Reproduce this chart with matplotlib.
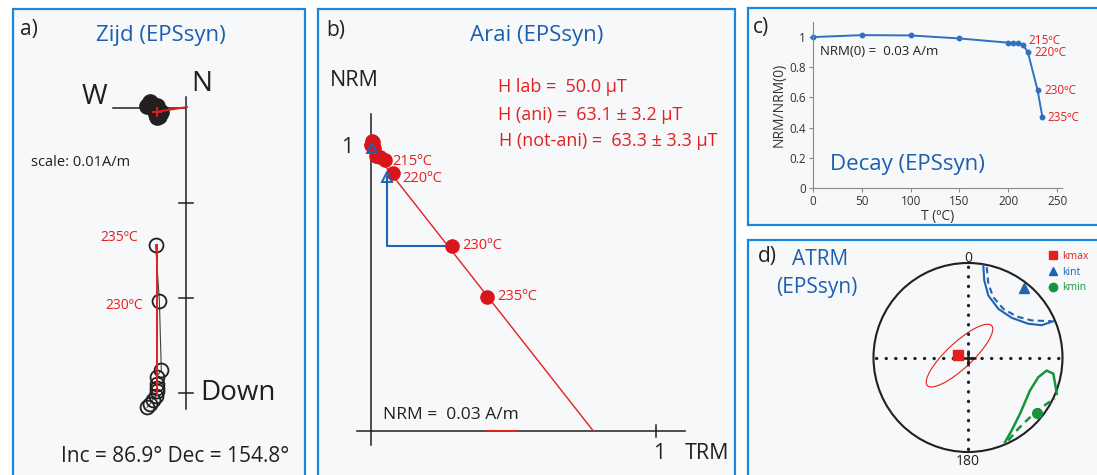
import numpy as np
import matplotlib
matplotlib.use('Agg')
import matplotlib.pyplot as plt
from matplotlib.patches import Rectangle, Ellipse, Circle
from matplotlib.lines import Line2D

plt.rcParams['font.family'] = ['Open Sans', 'DejaVu Sans']

W, H = 1097, 475

# ---------------------------------------------------------------- data
steps = [0, 50, 100, 150, 200, 205, 210, 215, 220, 230, 235]            # degC
labelled = [215, 220, 230, 235]

# c) thermal decay, NRM/NRM(0)
nrm_frac = [1.0, 1.013, 1.011, 0.991, 0.963, 0.960, 0.958, 0.949, 0.901, 0.648, 0.468]

# b) Arai: pTRM gained (fraction of full TRM)
trm_frac = [0.0, 0.004, 0.006, 0.010, 0.017, 0.022, 0.030, 0.049, 0.077, 0.284, 0.407]
check_trm = [0.004, 0.055]          # pTRM checks
check_nrm = [0.990, 0.888]
check_ref = [205, 230]              # step the check line starts from
fit_trm = [0.05, 0.78]
fit_nrm = [0.926, 0.0]
tail_trm = [0.407, 0.509]

# a) Zijderveld components (A/m)
zij_east = [-0.0041, -0.0038, -0.0035, -0.0032, -0.0031, -0.0031, -0.0030, -0.0031, -0.0026, -0.0028, -0.0032]
zij_north = [0.0002, 0.0006, 0.0003, -0.0004, -0.0009, -0.0007, -0.0002, 0.0002, -0.0004, -0.0008, -0.0006]
zij_down = [0.0315, 0.0312, 0.0307, 0.0303, 0.0298, 0.0295, 0.0291, 0.0283, 0.0276, 0.0203, 0.0144]
pca_h_east = [-0.0031, 0.0001]
pca_h_north = [-0.0004, 0.0001]
pca_v_east = [-0.0031, -0.0031]
pca_v_down = [0.0144, 0.0302]

# d) ATRM eigenvectors
k_names = ['kmax', 'kint', 'kmin']
k_dec = [281, 39, 129]
k_inc = [81, 6, 7]
kmax_ell_xy = (-0.09, 0.02)
kmax_ell_wh = (0.93, 0.27)
kmax_ell_ang = 43
kint_solid_x = [0.162, 0.172, 0.215, 0.321, 0.462, 0.638, 0.780, 0.903]
kint_solid_y = [0.974, 0.815, 0.656, 0.515, 0.420, 0.357, 0.342, 0.384]
kint_dash_x = [0.198, 0.215, 0.268, 0.374, 0.515, 0.674, 0.886]
kint_dash_y = [0.956, 0.780, 0.638, 0.515, 0.434, 0.392, 0.384]
kmin_solid_x = [0.392, 0.462, 0.550, 0.656, 0.744, 0.833, 0.903, 0.928, 0.939]
kmin_solid_y = [-0.896, -0.772, -0.596, -0.349, -0.208, -0.138, -0.172, -0.314, -0.384]
kmin_dash_x = [0.426, 0.532, 0.638, 0.744, 0.833, 0.921]
kmin_dash_y = [-0.878, -0.754, -0.649, -0.561, -0.490, -0.437]

# ---------------------------------------------------------------- style
FRAME = '#1a86dc'
PANEL = '#f6f8fa'
TITLE = '#1d5fae'
RED = '#e3201f'
DOT_RED = '#d9141b'
LINE_BLUE = '#3170c0'
ARC_BLUE = '#1f63b5'
GREEN = '#17943b'
INK = '#231f20'

fig = plt.figure(figsize=(W / 100, H / 100), dpi=100)
fig.patch.set_facecolor('white')


def box(x0, y0, x1, y1):
    return [x0 / W, 1 - y1 / H, (x1 - x0) / W, (y1 - y0) / H]


def ftext(x, y, s, **kw):
    kw.setdefault('va', 'baseline')
    kw.setdefault('color', INK)
    fig.text(x / W, 1 - y / H, s, **kw)


# panel frames
for x0, y0, x1, y1 in [(12.5, 8.5, 305, 490), (318, 8.5, 735, 490),
                       (748, 8.5, 1110, 225), (748, 240, 1110, 490)]:
    fig.add_artist(Rectangle((x0 / W, 1 - y1 / H), (x1 - x0) / W, (y1 - y0) / H,
                             transform=fig.transFigure, fc=PANEL, ec=FRAME,
                             lw=1.6, zorder=-5))

# ================================================================ a) Zijderveld
axz = fig.add_axes(box(13, 9, 305, 475))
zs = 9500.0                      # px per A/m
axz.set_xlim((13 - 186) / zs, (305 - 186) / zs)
axz.set_ylim((108 - 475) / zs, (108 - 9) / zs)
axz.set_axis_off()

axz.plot([-0.0077, 0], [0, 0], color=INK, lw=1.1)
axz.plot([0, 0], [0.0012, -0.0317], color=INK, lw=1.1)
for t in [0.01, 0.02, 0.03]:
    axz.plot([-0.0007, 0.0007], [-t, -t], color=INK, lw=1.1)

down_neg = [-d for d in zij_down]
axz.plot(zij_east, zij_north, 'o', color=INK, ms=11, zorder=3)
axz.plot(zij_east, down_neg, '-', color='#444444', lw=0.8, zorder=2)
axz.plot(zij_east, down_neg, 'o', mfc='none', mec=INK, mew=1.3, ms=10, zorder=3)
axz.plot(pca_h_east, pca_h_north, color=RED, lw=1.4, zorder=4)
axz.plot(pca_h_east[:1], pca_h_north[:1], '+', color=RED, ms=7, mew=1.3, zorder=4)
axz.plot(pca_v_east, [-d for d in pca_v_down], color=RED, lw=1.4, zorder=4)

zlab_off = {235: (-18, 4), 230: (-16, -8)}
for T, (dx, dy) in zlab_off.items():
    i = steps.index(T)
    axz.annotate(f'{T}ºC', (zij_east[i], -zij_down[i]), xytext=(dx, dy),
                 textcoords='offset pixels', ha='right', va='baseline',
                 color=RED, fontsize=10)

ftext(20, 35, 'a)', fontsize=15)
ftext(161, 41.5, 'Zijd (EPSsyn)', fontsize=16, color=TITLE, ha='center')
ftext(94.5, 104, 'W', fontsize=20, ha='center')
ftext(202, 91, 'N', fontsize=20, ha='center')
ftext(200, 400, 'Down', fontsize=20)
ftext(31, 165.5, 'scale: 0.01A/m', fontsize=10.5)
ftext(175, 462.5, 'Inc = 86.9° Dec = 154.8°', fontsize=15, ha='center')

# ================================================================ b) Arai
axa = fig.add_axes(box(319, 9, 735, 475))
axa.set_xlim((319 - 371) / 285, (735 - 371) / 285)
axa.set_ylim((431 - 475) / 286, (431 - 9) / 286)
axa.set_axis_off()

axa.plot([-0.05, 1.10], [0, 0], color=INK, lw=1.1)
axa.plot([0, 0], [-0.05, 1.107], color=INK, lw=1.1)
axa.plot([-0.022, 0], [1, 1], color=INK, lw=1.1)
axa.plot([1, 1], [-0.021, 0.021], color=INK, lw=1.1)
axa.plot(tail_trm, [0, 0], color=RED, lw=1.4, zorder=3)

axa.plot(fit_trm, fit_nrm, color=RED, lw=1.0, zorder=3)
for cx, cy, ref in zip(check_trm, check_nrm, check_ref):
    j = steps.index(ref)
    axa.plot([trm_frac[j], cx, cx], [nrm_frac[j], nrm_frac[j], cy],
             color=ARC_BLUE, lw=1.5, zorder=2)
axa.plot(check_trm, check_nrm, '^', mfc='none', mec=ARC_BLUE, mew=1.4, ms=7, zorder=5)
axa.plot(trm_frac, nrm_frac, 'o', color=DOT_RED, ms=9.5, zorder=4)

alab_off = {215: (7, -5), 220: (9, -9), 230: (10, -3), 235: (10, -3)}
for T, (dx, dy) in alab_off.items():
    i = steps.index(T)
    axa.annotate(f'{T}ºC', (trm_frac[i], nrm_frac[i]), xytext=(dx, dy),
                 textcoords='offset pixels', ha='left', va='baseline',
                 color=RED, fontsize=10.5)

ftext(326.5, 36, 'b)', fontsize=15)
ftext(537, 41.5, 'Arai (EPSsyn)', fontsize=16, color=TITLE, ha='center')
ftext(330, 86.5, 'NRM', fontsize=15.5)
ftext(353, 153, '1', fontsize=15.5, ha='right')
ftext(659, 459, '1', fontsize=15.5, ha='center')
ftext(685, 459, 'TRM', fontsize=15.5)
ftext(498, 91.5, 'H lab =  50.0 μT', fontsize=13, color=RED)
ftext(498, 120, 'H (ani) =  63.1 ± 3.2 μT', fontsize=13, color=RED)
ftext(499, 146.5, 'H (not-ani) =  63.3 ± 3.3 μT', fontsize=13, color=RED)
ftext(383, 419, 'NRM =  0.03 A/m', fontsize=12.5)

# ================================================================ c) Decay
axc = fig.add_axes(box(813, 22, 1062, 188))
axc.patch.set_visible(False)
axc.plot(steps, nrm_frac, '-o', color=LINE_BLUE, lw=1.4, ms=3.2, clip_on=False)
axc.set_xlim(0, 255)
axc.set_ylim(0, 1.1)
axc.set_xticks([0, 50, 100, 150, 200, 250])
axc.set_yticks([0, 0.2, 0.4, 0.6, 0.8, 1.0])
axc.set_yticklabels(['0', '0.2', '0.4', '0.6', '0.8', '1'])
for s in ['top', 'right']:
    axc.spines[s].set_visible(False)
for s in ['left', 'bottom']:
    axc.spines[s].set_color('#8a8a8a')
    axc.spines[s].set_linewidth(0.8)
axc.tick_params(length=3, width=0.8, color='#8a8a8a', labelsize=8.5, pad=2,
                labelcolor='#333333')
axc.set_xlabel('T (ºC)', fontsize=10, labelpad=1, color='#333333')
axc.set_ylabel('NRM/NRM(0)', fontsize=10, labelpad=2, color='#333333')

clab_off = {215: (5, 1), 220: (7, -4), 230: (7, -4), 235: (5, -4)}
for T, (dx, dy) in clab_off.items():
    i = steps.index(T)
    axc.annotate(f'{T}ºC', (T, nrm_frac[i]), xytext=(dx, dy),
                 textcoords='offset pixels', ha='left', va='baseline',
                 color=RED, fontsize=8.5)

ftext(753, 33, 'c)', fontsize=15)
ftext(820, 55, 'NRM(0) =  0.03 A/m', fontsize=9.5)
ftext(830, 170, 'Decay (EPSsyn)', fontsize=16, color=TITLE)

# ================================================================ d) ATRM stereonet
axd = fig.add_axes(box(749, 241, 1097, 475))
R = 94.5
axd.set_xlim((749 - 968) / R, (1097 - 968) / R)
axd.set_ylim((357.5 - 475) / R, (357.5 - 241) / R)
axd.set_axis_off()

axd.add_patch(Circle((0, 0), 1, fill=False, ec=INK, lw=1.5))
dots = dict(color=INK, lw=2.3, ls=(0, (0.1, 2.9)), dash_capstyle='round')
axd.plot([-0.97, 0.97], [0, 0], **dots)
axd.plot([0, 0], [-0.97, 0.97], **dots)
axd.plot([0], [0], '+', color=INK, ms=11, mew=1.8)

axd.add_patch(Ellipse(kmax_ell_xy, kmax_ell_wh[0], kmax_ell_wh[1], angle=kmax_ell_ang,
                      fill=False, ec=RED, lw=0.8))
axd.plot(kint_solid_x, kint_solid_y, color=ARC_BLUE, lw=1.5)
axd.plot(kint_dash_x, kint_dash_y, color=ARC_BLUE, lw=1.5, ls=(0, (3, 2)))
axd.plot(kmin_solid_x, kmin_solid_y, color=GREEN, lw=1.8)
axd.plot(kmin_dash_x, kmin_dash_y, color=GREEN, lw=1.8, ls=(0, (3, 2)))

rr = np.sqrt(2) * np.sin(np.radians(90 - np.array(k_inc)) / 2)
kx = rr * np.sin(np.radians(k_dec))
ky = rr * np.cos(np.radians(k_dec))
k_style = [('s', RED), ('^', ARC_BLUE), ('o', GREEN)]
handles = []
for i, (m, c) in enumerate(k_style):
    axd.plot(kx[i], ky[i], m, color=c, ms=7, zorder=5)
    handles.append(Line2D([], [], ls='none', marker=m, color=c, ms=6, label=k_names[i]))

leg = axd.legend(handles=handles, loc='upper left',
                 bbox_to_anchor=(1049 / W, 1 - 251 / H), bbox_transform=fig.transFigure,
                 frameon=False, fontsize=7.5, handlelength=0.8, handletextpad=0.5,
                 labelspacing=0.45, borderpad=0, borderaxespad=0)
for t, (m, c) in zip(leg.get_texts(), k_style):
    t.set_color(c)

ftext(968, 261.5, '0', fontsize=10, ha='center')
ftext(968, 465, '180', fontsize=10, ha='center')
ftext(758, 262, 'd)', fontsize=15)
ftext(791.5, 265, 'ATRM', fontsize=15, color=TITLE)
ftext(776.5, 293, '(EPSsyn)', fontsize=15, color=TITLE)

fig.savefig('out.png', dpi=100, facecolor='white')
